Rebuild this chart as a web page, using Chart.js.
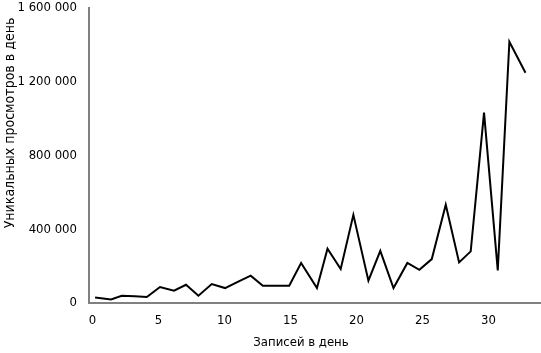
<!DOCTYPE html>
<html>
<head>
<meta charset="utf-8">
<script src="https://cdn.jsdelivr.net/npm/chart.js@4"></script>
<style>
html,body{margin:0;padding:0;background:#fff;}
#wrap{width:541px;height:353px;}
</style>
</head>
<body>
<div id="wrap"><canvas id="chart"></canvas></div>
<script>
// posts per day (x) and unique page views per day (y)
var postsPerDay = [0.19, 1.4, 2.21, 3.2, 4.11, 5.11, 6.17, 7.08, 8.02, 9.03, 10.04, 11.0, 11.98, 12.9, 13.9, 14.9, 15.8, 17.0, 17.8, 18.8, 19.76, 20.9, 21.8, 22.8, 23.85, 24.76, 25.7, 26.76, 27.77, 28.65, 29.66, 30.7, 31.58, 32.8];
var uniqueViews = [30000, 19500, 39500, 36000, 32500, 86700, 66600, 99000, 39500, 103000, 81000, 115000, 148000, 94000, 94000, 94000, 217000, 81000, 294000, 184000, 478000, 121000, 283000, 81000, 217000, 180000, 238000, 533000, 220000, 280000, 1033000, 177000, 1417000, 1249000];
var xTicks = [0, 5, 10, 15, 20, 25, 30];
var yTicks = [0, 400000, 800000, 1200000, 1600000];
var xTitle = "Записей в день";
var yTitle = "Уникальных просмотров в день";

var points = [];
for(var i=0;i<postsPerDay.length;i++){
  points.push({x:postsPerDay[i], y:uniqueViews[i]});
}

var font = {family:"'DejaVu Sans Condensed', 'Liberation Sans Narrow', sans-serif", size:13};

function fmt(v){
  return String(v).replace(/\B(?=(\d{3})+(?!\d))/g, " ");
}

// axis titles sit off-centre in the original, so draw them here
var titlesPlugin = {
id:"titles",
afterDraw:function(chart){
var ctx = chart.ctx;
ctx.save();
ctx.font = "13px " + font.family;
ctx.fillStyle = "#000";
ctx.textAlign = "center";
ctx.textBaseline = "middle";
ctx.fillText(xTitle, 301, 343);
ctx.translate(10, 123);
ctx.rotate(-Math.PI/2);
ctx.font = "14px " + font.family;
ctx.fillText(yTitle, 0, 0);
ctx.restore();
}
};

new Chart(document.getElementById("chart").getContext("2d"),{
type:"scatter",
data:{
datasets:[{
data:points,
showLine:true,
borderColor:"#000",
borderWidth:2,
pointRadius:0,
tension:0
}]
},
plugins:[titlesPlugin],
options:{
responsive:true,
maintainAspectRatio:false,
animation:false,
layout:{padding:{top:0,right:1,left:0,bottom:0}},
plugins:{legend:{display:false},tooltip:{enabled:false}},
scales:{
x:{
type:"linear",
min:-0.27,
max:33.9,
afterBuildTicks:function(axis){
axis.ticks = xTicks.map(function(v){return {value:v};});
},
afterFit:function(axis){ axis.height = 50; axis.paddingLeft = 0; axis.paddingRight = 0; },
grid:{display:false,drawTicks:false},
border:{display:true,color:"#808080",width:2},
ticks:{color:"#000",font:font,padding:10,maxRotation:0},
title:{display:false}
},
y:{
min:0,
max:1600000,
afterBuildTicks:function(axis){
axis.ticks = yTicks.map(function(v){return {value:v};});
},
afterFit:function(axis){ axis.width = 89; axis.paddingTop = 8; axis.paddingBottom = 0; },
grid:{display:false,drawTicks:false},
border:{display:true,color:"#808080",width:2},
ticks:{color:"#000",font:font,padding:12,callback:function(v){return fmt(v);}},
title:{display:false}
}
}
}
});
</script>
</body>
</html>
